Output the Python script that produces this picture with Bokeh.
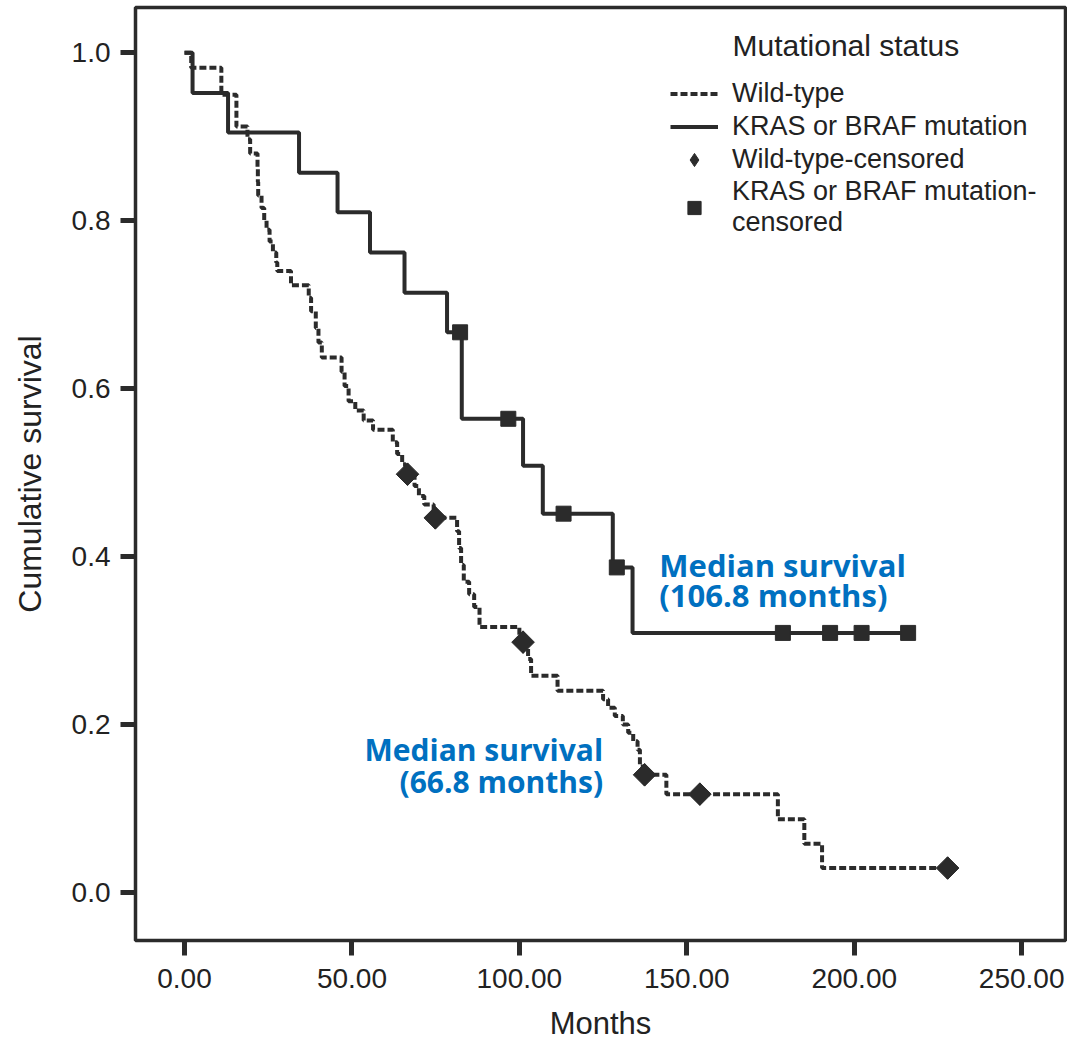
import math
from bokeh.plotting import figure
from bokeh.models import (Range1d, FixedTicker, PrintfTickFormatter, Legend,
                          LegendItem, Label)
from bokeh.embed import file_html
from bokeh.resources import INLINE

# ---- data ----
wt_months = [0.0, 2.0, 11.0, 15.5, 18.8, 19.6, 21.8, 21.9, 22.0, 23.0, 23.8, 24.5,
             25.4, 26.4, 27.4, 27.7, 31.8, 37.1, 37.8, 39.2, 40.0, 41.0, 46.9,
             47.8, 49.0, 51.0, 53.5, 56.3, 62.2, 63.5, 65.0, 66.0, 68.7, 70.0,
             71.6, 74.4, 81.4, 82.0, 82.6, 83.4, 85.0, 86.5, 88.1, 100.0, 102.6,
             103.5, 111.4, 125.0, 126.5, 128.5, 130.9, 132.5, 134.0, 135.3,
             136.0, 137.0, 143.9, 177.2, 185.1, 190.4, 227.9]
wt_surv = [1.000, 0.982, 0.950, 0.912, 0.897, 0.880, 0.862, 0.846, 0.830, 0.815,
           0.800, 0.789, 0.775, 0.762, 0.750, 0.740, 0.723, 0.708, 0.692, 0.672,
           0.655, 0.637, 0.620, 0.603, 0.585, 0.574, 0.562, 0.551, 0.536, 0.522,
           0.510, 0.498, 0.484, 0.472, 0.462, 0.446, 0.430, 0.410, 0.390, 0.370,
           0.355, 0.340, 0.316, 0.298, 0.278, 0.258, 0.240, 0.230, 0.220, 0.210,
           0.200, 0.190, 0.180, 0.170, 0.150, 0.140, 0.117, 0.087, 0.058, 0.029,
           0.029]
wt_cens_months = [66.6, 74.9, 101.1, 137.4, 153.9, 227.9]
wt_cens_surv = [0.498, 0.446, 0.298, 0.140, 0.117, 0.029]

mut_months = [0.0, 2.4, 13.0, 34.2, 45.7, 55.4, 65.7, 78.4, 82.8, 101.1, 107.0,
              127.9, 133.8, 216.1]
mut_surv = [1.000, 0.952, 0.905, 0.857, 0.810, 0.762, 0.714, 0.667, 0.564, 0.508,
            0.451, 0.387, 0.309, 0.309]
mut_cens_months = [82.3, 96.7, 113.2, 129.1, 178.7, 192.8, 202.2, 216.1]
mut_cens_surv = [0.667, 0.564, 0.451, 0.387, 0.309, 0.309, 0.309, 0.309]

x_ticks = [0, 50, 100, 150, 200, 250]
y_ticks = [0.0, 0.2, 0.4, 0.6, 0.8, 1.0]

legend_title = "Mutational status"
series_labels = ["Wild-type", "KRAS or BRAF mutation", "Wild-type-censored",
                 "KRAS or BRAF mutation-\ncensored"]
median_mut_text = ["Median survival", "(106.8 months)"]
median_wt_text = ["Median survival", "(66.8 months)"]
median_mut_pos = (141.8, [0.3895, 0.3544])
median_wt_pos = (125.0, [0.1696, 0.1322])

# ---- figure ----
INK = "#2b2b2b"
BLUE = "#0070C0"
FONT = "Liberation Sans"

p = figure(width=1067, height=1043, output_backend="svg", toolbar_location=None,
           x_range=Range1d(-14.64, 263.1), y_range=Range1d(-0.0573, 1.0538),
           min_border_left=135, min_border_right=2, min_border_top=7,
           min_border_bottom=102)
p.background_fill_color = "white"
p.border_fill_color = "white"
p.grid.visible = False
p.outline_line_color = INK
p.outline_line_width = 3.5

for ax in (p.xaxis[0], p.yaxis[0]):
    ax.axis_line_color = None
    ax.major_tick_line_color = INK
    ax.major_tick_line_width = 5
    ax.major_tick_in = 0
    ax.major_tick_out = 15
    ax.minor_tick_line_color = None
    ax.major_label_text_font = FONT
    ax.major_label_text_font_size = "28px"
    ax.major_label_text_color = "#222222"
    ax.axis_label_text_font = FONT
    ax.axis_label_text_font_style = "normal"
    ax.axis_label_text_color = "#222222"

p.xaxis.ticker = FixedTicker(ticks=x_ticks)
p.xaxis.formatter = PrintfTickFormatter(format="%.2f")
p.xaxis.major_label_standoff = 13
p.xaxis.axis_label = "Months"
p.xaxis.axis_label_text_font_size = "31px"
p.xaxis.axis_label_standoff = 15

p.yaxis.ticker = FixedTicker(ticks=y_ticks)
p.yaxis.formatter = PrintfTickFormatter(format="%.1f")
p.yaxis.major_label_standoff = 10
p.yaxis.axis_label = "Cumulative survival"
p.yaxis.axis_label_text_font_size = "32px"
p.yaxis.axis_label_standoff = 21

r_wt = p.step(wt_months, wt_surv, mode="after", line_color=INK, line_width=4,
              line_dash="7 3")
r_mut = p.step(mut_months, mut_surv, mode="after", line_color=INK, line_width=4)
# diamond marker (used as legend key) sits fully under the rotated squares
r_wtc_key = p.scatter(wt_cens_months, wt_cens_surv, marker="diamond", size=22,
                      fill_color=INK, line_color=INK)
r_wtc = p.scatter(wt_cens_months, wt_cens_surv, marker="square", angle=math.pi / 4,
                  size=16, fill_color=INK, line_color=INK)
r_mutc = p.scatter(mut_cens_months, mut_cens_surv, marker="square", size=15,
                   fill_color=INK, line_color=INK)

legend = Legend(items=[LegendItem(label=series_labels[0], renderers=[r_wt]),
                       LegendItem(label=series_labels[1], renderers=[r_mut]),
                       LegendItem(label=series_labels[2], renderers=[r_wtc_key]),
                       LegendItem(label=series_labels[3], renderers=[r_mutc])],
                location=(535, 702))
legend.border_line_color = None
legend.background_fill_alpha = 0
legend.padding = 0
legend.margin = 0
legend.spacing = 0
legend.glyph_width = 48
legend.glyph_height = 33
legend.label_height = 30
legend.label_standoff = 14
legend.label_text_font = FONT
legend.label_text_font_size = "27px"
legend.label_text_color = "#222222"
p.add_layout(legend, "center")

p.add_layout(Label(x=597, y=895, x_units="screen", y_units="screen",
                   text=legend_title, text_font=FONT, text_font_size="30px",
                   text_color="#222222", text_baseline="alphabetic"))

for txt, yy in zip(median_mut_text, median_mut_pos[1]):
    p.add_layout(Label(x=median_mut_pos[0], y=yy, text=txt, text_font="Open Sans",
                       text_font_style="bold", text_font_size="31px",
                       text_color=BLUE, text_baseline="alphabetic",
                       text_align="left"))
for txt, yy in zip(median_wt_text, median_wt_pos[1]):
    p.add_layout(Label(x=median_wt_pos[0], y=yy, text=txt, text_font="Open Sans",
                       text_font_style="bold", text_font_size="30px",
                       text_color=BLUE, text_baseline="alphabetic",
                       text_align="right"))

open("out.html", "w").write(file_html(p, INLINE))
